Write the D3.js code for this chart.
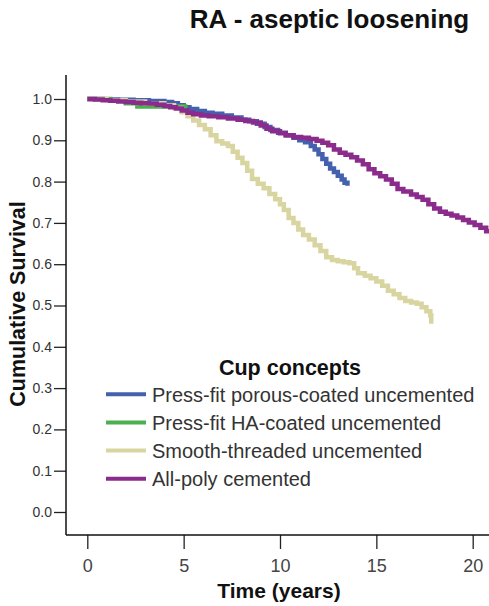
<!DOCTYPE html>
<html>
<head>
<meta charset="utf-8">
<script src="https://cdn.jsdelivr.net/npm/d3@7"></script>
<style>
  html, body { margin: 0; padding: 0; background: #fff; }
  svg { display: block; font-family: Arial, "Liberation Sans", sans-serif; }
</style>
</head>
<body>
<svg id="chart" width="489" height="606"></svg>
<script>
// Kaplan–Meier survival (aseptic loosening), one array pair per cup concept
const seriesNames = [
  "Press-fit porous-coated uncemented",
  "Press-fit HA-coated uncemented",
  "Smooth-threaded uncemented",
  "All-poly cemented"
];
const seriesColors = ["#4361ad", "#4caf50", "#d9d5a1", "#8b2b8c"];

const porousTimes = [0, 0.8, 1.6, 2.4, 3.2, 4.0, 4.4, 4.7, 5.0, 5.3, 5.7, 6.1, 6.5, 7.0, 7.5, 8.0, 8.4, 8.8, 9.2, 9.5, 9.9, 10.3, 10.7, 11.0, 11.3, 11.6, 11.8, 12.0, 12.2, 12.4, 12.6, 12.8, 13.0, 13.2, 13.35, 13.5];
const porousSurv  = [1.0, 0.999, 0.998, 0.997, 0.995, 0.993, 0.990, 0.985, 0.980, 0.976, 0.971, 0.967, 0.964, 0.960, 0.955, 0.950, 0.946, 0.940, 0.932, 0.925, 0.918, 0.912, 0.906, 0.900, 0.895, 0.886, 0.878, 0.866, 0.855, 0.843, 0.832, 0.823, 0.814, 0.805, 0.797, 0.790];

const haTimes = [0, 1.2, 2.0, 2.6, 4.8, 5.2];
const haSurv  = [1.0, 0.996, 0.990, 0.982, 0.982, 0.982];

const smoothTimes = [0, 1, 2, 3, 4, 4.5, 4.9, 5.2, 5.5, 5.8, 6.1, 6.4, 6.7, 7.0, 7.3, 7.55, 7.8, 8.05, 8.3, 8.55, 8.85, 9.15, 9.45, 9.75, 10.0, 10.2, 10.45, 10.7, 10.95, 11.2, 11.5, 11.8, 12.1, 12.4, 12.7, 13.0, 13.3, 13.6, 13.85, 14.05, 14.4, 14.7, 15.0, 15.3, 15.6, 15.9, 16.2, 16.5, 16.8, 17.1, 17.35, 17.6, 17.8, 17.85];
const smoothSurv  = [1.0, 0.997, 0.994, 0.990, 0.985, 0.978, 0.968, 0.958, 0.948, 0.937, 0.927, 0.912, 0.898, 0.892, 0.886, 0.872, 0.858, 0.845, 0.826, 0.806, 0.795, 0.784, 0.770, 0.757, 0.745, 0.731, 0.712, 0.700, 0.684, 0.671, 0.660, 0.646, 0.632, 0.617, 0.610, 0.607, 0.605, 0.602, 0.590, 0.578, 0.572, 0.566, 0.558, 0.548, 0.536, 0.527, 0.518, 0.511, 0.507, 0.504, 0.496, 0.486, 0.476, 0.456];

const polyTimes = [0, 0.4, 0.8, 1.2, 1.6, 2.0, 2.4, 2.8, 3.2, 3.6, 4.0, 4.3, 4.6, 4.9, 5.2, 5.5, 5.9, 6.3, 6.8, 7.3, 7.8, 8.2, 8.6, 9.0, 9.3, 9.6, 10.0, 10.3, 10.7, 11.1, 11.5, 11.9, 12.2, 12.5, 12.8, 13.1, 13.4, 13.7, 14.0, 14.3, 14.6, 14.9, 15.2, 15.5, 15.8, 16.1, 16.4, 16.8, 17.1, 17.4, 17.7, 18.0, 18.3, 18.6, 18.9, 19.2, 19.5, 19.8, 20.1, 20.4, 20.7, 21.0];
const polySurv  = [1.0, 0.999, 0.997, 0.996, 0.994, 0.993, 0.991, 0.990, 0.989, 0.986, 0.983, 0.980, 0.977, 0.972, 0.967, 0.963, 0.960, 0.958, 0.956, 0.953, 0.950, 0.947, 0.943, 0.936, 0.928, 0.922, 0.917, 0.912, 0.908, 0.906, 0.903, 0.899, 0.894, 0.888, 0.878, 0.870, 0.865, 0.859, 0.851, 0.842, 0.830, 0.820, 0.813, 0.805, 0.795, 0.782, 0.776, 0.769, 0.763, 0.756, 0.745, 0.735, 0.727, 0.722, 0.718, 0.713, 0.707, 0.701, 0.695, 0.688, 0.680, 0.672];

const seriesTimes = [porousTimes, haTimes, smoothTimes, polyTimes];
const seriesSurv  = [porousSurv, haSurv, smoothSurv, polySurv];

const xTicks = [0, 5, 10, 15, 20];
const yTicks = [0, 0.1, 0.2, 0.3, 0.4, 0.5, 0.6, 0.7, 0.8, 0.9, 1.0];

const svg = d3.select("#chart");
const W = 489;

const x = d3.scaleLinear().domain([0, 20]).range([87.3, 472.7]);
const y = d3.scaleLinear().domain([0, 1]).range([512, 99]);
const axisX = 66, axisY = 535;

// clip curves to the plotting frame
svg.append("defs").append("clipPath").attr("id", "plotClip")
  .append("rect").attr("x", axisX).attr("y", 60).attr("width", W - axisX).attr("height", axisY - 60);

// title
svg.append("text")
  .attr("x", 329.5).attr("y", 28)
  .attr("text-anchor", "middle")
  .attr("font-size", 26).attr("font-weight", "bold").attr("fill", "#111")
  .text("RA - aseptic loosening");

// survival curves
const line = d3.line()
  .x(d => x(d[0]))
  .y(d => y(d[1]))
  .curve(d3.curveStepAfter);

const curves = svg.append("g").attr("clip-path", "url(#plotClip)");
seriesNames.forEach((name, i) => {
  const pts = seriesTimes[i].map((t, k) => [t, seriesSurv[i][k]]);
  curves.append("path")
    .datum(pts)
    .attr("d", line)
    .attr("fill", "none")
    .attr("stroke", seriesColors[i])
    .attr("stroke-width", 4.5)
    .attr("stroke-linejoin", "miter");
});

// y axis
const yAxis = svg.append("g")
  .attr("transform", `translate(${axisX},0)`)
  .call(d3.axisLeft(y).tickValues(yTicks).tickFormat(d3.format(".1f")).tickSize(12).tickPadding(2));
yAxis.select(".domain").remove();
yAxis.selectAll("line").attr("stroke", "#222").attr("stroke-width", 1.3);
yAxis.selectAll("text").attr("font-size", 14).attr("fill", "#333").attr("font-family", "Arial, 'Liberation Sans', sans-serif");

// x axis
const xAxis = svg.append("g")
  .attr("transform", `translate(0,${axisY})`)
  .call(d3.axisBottom(x).tickValues(xTicks).tickFormat(d3.format("d")).tickSize(14));
xAxis.select(".domain").remove();
xAxis.selectAll("line").attr("stroke", "#222").attr("stroke-width", 1.3);
xAxis.selectAll("text").attr("font-size", 18).attr("fill", "#444")
  .attr("y", 37).attr("dy", 0).attr("font-family", "Arial, 'Liberation Sans', sans-serif");

// frame lines
svg.append("line").attr("x1", axisX).attr("x2", axisX).attr("y1", 75).attr("y2", axisY)
  .attr("stroke", "#111").attr("stroke-width", 1.5);
svg.append("line").attr("x1", axisX).attr("x2", W).attr("y1", axisY).attr("y2", axisY)
  .attr("stroke", "#111").attr("stroke-width", 1.5);

// axis titles
svg.append("text")
  .attr("x", 279).attr("y", 598)
  .attr("text-anchor", "middle")
  .attr("font-size", 21).attr("font-weight", "bold").attr("fill", "#111")
  .text("Time (years)");

svg.append("text")
  .attr("transform", "translate(25,304) rotate(-90)")
  .attr("text-anchor", "middle")
  .attr("font-size", 21.5).attr("font-weight", "bold").attr("fill", "#111")
  .text("Cumulative Survival");

// legend
const legend = svg.append("g");
legend.append("text")
  .attr("x", 290).attr("y", 375)
  .attr("text-anchor", "middle")
  .attr("font-size", 21.5).attr("font-weight", "bold").attr("fill", "#111")
  .text("Cup concepts");

const legendY = d3.scalePoint().domain(seriesNames).range([394.3, 478.7]);
seriesNames.forEach((name, i) => {
  const ly = legendY(name);
  legend.append("line")
    .attr("x1", 106).attr("x2", 146).attr("y1", ly).attr("y2", ly)
    .attr("stroke", seriesColors[i]).attr("stroke-width", 4);
  legend.append("text")
    .attr("x", 152).attr("y", ly + 7.4)
    .attr("font-size", 20).attr("fill", "#333")
    .text(name);
});
</script>
</body>
</html>
